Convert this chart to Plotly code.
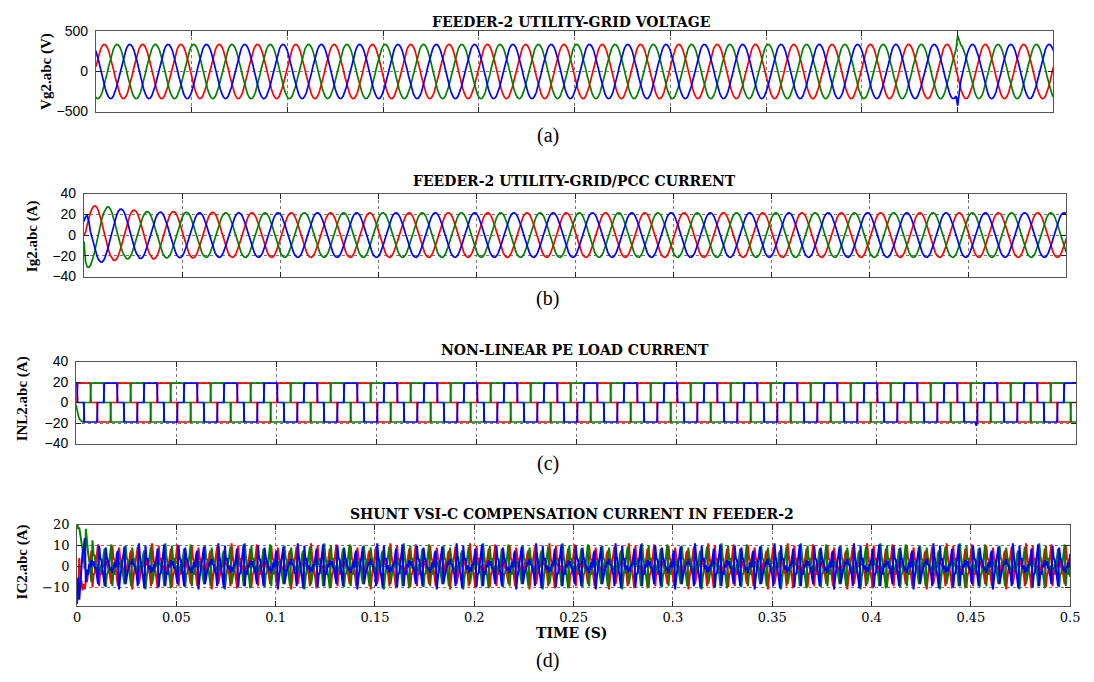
import plotly.graph_objects as go

# ---------------- shared time base / ticks ----------------
FUND_PERIOD_S = 0.02          # one 50 Hz cycle
N_CYCLES = 25                 # 0 ... 0.5 s
x_tick_vals = [0, 0.05, 0.1, 0.15, 0.2, 0.25, 0.3, 0.35, 0.4, 0.45, 0.5]
x_tick_text = ["0", "0.05", "0.1", "0.15", "0.2", "0.25", "0.3", "0.35", "0.4", "0.45", "0.5"]

# ---------------- (a) grid voltage, phase-a cycle (every 15 deg) ----------------
vg_cycle_a = [59, 143, 218, 278, 319, 338, 334, 307, 260, 194, 116, 30,
              -59, -143, -218, -278, -319, -338, -334, -307, -260, -194, -116, -30]
vg_event_t = 0.45
vg_event_green = [447, 385]
vg_event_blue = [-427, -255]
vg_ticks = [-500, 0, 500]

# ---------------- (b) grid / PCC current ----------------
ig_cycle_a = [-3.4, 2.2, 7.7, 12.6, 16.7, 19.6, 21.2, 21.4, 20.1, 17.4, 13.5, 8.7,
              3.4, -2.2, -7.7, -12.6, -16.7, -19.6, -21.2, -21.4, -20.1, -17.4, -13.5, -8.7]
ig_steady_peak = 21.4
ig_halfwave_peaks_red = [0, 28, 24.5, 24, 23, 22.5, 22, 21.8]
ig_halfwave_peaks_green = [31, 27, 23, 22.5, 22, 21.8]
ig_halfwave_peaks_blue = [19, 26, 25, 22.5, 22, 21.8]
ig_start_green = [-6, -26]
ig_start_blue = [13, 18, 18.5, 13]
ig_ticks = [-40, -20, 0, 20, 40]

# ---------------- (c) non-linear load current, phase-a cycle (every 7.5 deg) ----------------
inl_cycle_a = [0, 0] + [19] * 16 + [0] * 8 + [-19] * 16 + [0] * 6
inl_start_green = [-2, -7, -11, -14, -16, -17.3, -18.1, -18.6, -18.9]
inl_event_t = 0.45
inl_event_blue = [-22.5, -21]
inl_ticks = [-40, -20, 0, 20, 40]

# ---------------- (d) shunt VSI compensation current, phase-a, two cycles (every 10 deg) ----------------
ic_cycles_a = [-6.0, -10.5, 10.0, 3.0, 4.0, -1.5, 0.5, -3.0, -0.5, -2.5, 1.0, 0.5,
               5.0, 8.5, -10.0, -4.0, -3.0, 2.5, 4.5, 10.5, -9.5, -2.5, -4.0, 1.0,
               -0.5, 3.0, 0.5, 2.5, -1.0, -0.5, -5.0, -8.5, 10.0, 4.0, 3.0, -2.5,
               -5.0, -9.5, 9.0, 4.5, 2.5, 0.5, -1.5, -1.0, -3.0, -1.0, 2.0, -0.5,
               6.0, 7.5, -11.0, -5.5, -1.5, 1.0, 6.0, 9.5, -8.5, -4.0, -2.0, -0.5,
               1.5, 1.0, 3.5, 1.0, 0.5, -2.0, -4.0, -9.5, 11.0, 5.0, 1.5, -1.0]
ic_template_cycles = 2
ic_start_red = [0, -3, -6, -9, -11, -10, -9, -8, -6, -5, -4, -3, -2, -1]
ic_start_green = [20, 17, 15, 13, 11, 10, 9, 8, 7, 6, 5, 4, 3.5, 3, 2.5, 2, 1.5, 1, 0.5]
ic_start_blue = [-23, -14, -6, -2, 2, 4, 4, 3, 2, 1]
ic_ticks = [-10, 0, 10, 20]

PHASE_COLORS = ["#ff0000", "#008000", "#0000ff"]


def tiled(cycle, shift, cycles_in_template=1):
    n = len(cycle)
    per_cycle = n // cycles_in_template
    total = per_cycle * N_CYCLES + 1
    dt = FUND_PERIOD_S / per_cycle
    t = [i * dt for i in range(total)]
    y = [cycle[(i - shift) % n] for i in range(total)]
    return t, y


def three_phase(cycle, cycles_in_template=1):
    third = len(cycle) // cycles_in_template // 3
    return [tiled(cycle, 0, cycles_in_template),
            tiled(cycle, third, cycles_in_template),
            tiled(cycle, -third, cycles_in_template)]


def scale_halfwaves(y, peaks, steady):
    out = []
    seg = 0
    prev_sign = None
    for v in y:
        s = 1 if v > 0 else (-1 if v < 0 else 0)
        if s != 0:
            if prev_sign is not None and s != prev_sign:
                seg += 1
            prev_sign = s
        m = peaks[seg] / steady if seg < len(peaks) else 1.0
        out.append(v * m)
    return out


def overwrite(y, start_idx, values):
    for j, v in enumerate(values):
        y[start_idx + j] = v


def add_offsets(y, values):
    for j, v in enumerate(values):
        y[j] += v


# ---- build panel data ----
va, vb, vc = three_phase(vg_cycle_a)
idx = round(vg_event_t / (FUND_PERIOD_S / len(vg_cycle_a)))
overwrite(vb[1], idx, vg_event_green)
overwrite(vc[1], idx, vg_event_blue)
panel_a = [va, vb, vc]

ia, ib, ic_ = three_phase(ig_cycle_a)
ia = (ia[0], scale_halfwaves(ia[1], ig_halfwave_peaks_red, ig_steady_peak))
ib = (ib[0], scale_halfwaves(ib[1], ig_halfwave_peaks_green, ig_steady_peak))
ic_ = (ic_[0], scale_halfwaves(ic_[1], ig_halfwave_peaks_blue, ig_steady_peak))
overwrite(ib[1], 0, ig_start_green)
overwrite(ic_[1], 0, ig_start_blue)
panel_b = [ia, ib, ic_]

la, lb, lc = three_phase(inl_cycle_a)
overwrite(lb[1], 0, inl_start_green)
idx = round(inl_event_t / (FUND_PERIOD_S / len(inl_cycle_a)))
overwrite(lc[1], idx, inl_event_blue)
panel_c = [la, lb, lc]

ca, cb, cc = three_phase(ic_cycles_a, ic_template_cycles)
add_offsets(ca[1], ic_start_red)
add_offsets(cb[1], ic_start_green)
add_offsets(cc[1], ic_start_blue)
panel_d = [ca, cb, cc]

W, H = 1094, 682

# pixel boxes of the four plot frames (left, right, top, bottom)
boxes = [(93, 1063, 24, 106), (81, 1076, 190, 275), (73, 1086, 362, 446), (74, 1080, 529, 612)]
y_ranges = [[-500, 500], [-40, 40], [-40, 40], [-18.8, 20]]
y_tickvals = [vg_ticks, ig_ticks, inl_ticks, ic_ticks]
panels = [panel_a, panel_b, panel_c, panel_d]
line_widths = [1.7, 1.7, 1.7, 2.0]

fig = go.Figure()
for p, data in enumerate(panels):
    xa = "x" if p == 0 else f"x{p+1}"
    ya = "y" if p == 0 else f"y{p+1}"
    for ph, (t, y) in enumerate(data):
        fig.add_trace(go.Scatter(x=t, y=y, mode="lines", xaxis=xa, yaxis=ya,
                                 line=dict(color=PHASE_COLORS[ph], width=line_widths[p]),
                                 showlegend=False, hoverinfo="skip"))

layout = dict(width=W, height=H, margin=dict(l=0, r=0, t=0, b=0),
              paper_bgcolor="white", plot_bgcolor="white", showlegend=False)

for p in range(4):
    l, r, tp, bt = boxes[p]
    xkey = "xaxis" if p == 0 else f"xaxis{p+1}"
    ykey = "yaxis" if p == 0 else f"yaxis{p+1}"
    xa = "x" if p == 0 else f"x{p+1}"
    ya = "y" if p == 0 else f"y{p+1}"
    layout[xkey] = dict(domain=[l / W, r / W], anchor=ya, range=[0, 0.5],
                        tickvals=x_tick_vals, ticktext=x_tick_text,
                        showticklabels=(p == 3), ticks="inside", ticklen=5,
                        tickcolor="#222", showline=True, linecolor="#555", linewidth=1,
                        mirror="ticks", showgrid=True, gridcolor="#777", griddash="dot",
                        gridwidth=1, zeroline=False,
                        tickfont=dict(family="DejaVu Serif", size=13, color="black"))
    tf = dict(family="DejaVu Serif", size=13, color="black") if p == 3 else \
        dict(family="Liberation Sans", size=14, color="black")
    layout[ykey] = dict(domain=[1 - bt / H, 1 - tp / H], anchor=xa, range=y_ranges[p],
                        tickvals=y_tickvals[p], ticks="inside", ticklen=5,
                        tickcolor="#222", showline=True, linecolor="#555", linewidth=1,
                        mirror="ticks", showgrid=True, gridcolor="#777", griddash="dot",
                        gridwidth=1, zeroline=False, tickfont=tf, ticklabelstandoff=4)

fig.update_layout(**layout)

titles = ["FEEDER-2 UTILITY-GRID VOLTAGE", "FEEDER-2 UTILITY-GRID/PCC CURRENT",
          "NON-LINEAR PE LOAD CURRENT", "SHUNT VSI-C COMPENSATION CURRENT IN FEEDER-2"]
title_pos = [(574, 14), (578, 177), (578, 350), (575, 518)]
ylabels = ["Vg2.abc (V)", "Ig2.abc (A)", "INL2.abc (A)", "IC2.abc (A)"]
ylabel_pos = [(43, 65), (29, 234), (19, 400), (19, 567)]
panel_labels = ["(a)", "(b)", "(c)", "(d)"]
panel_label_pos = [(551, 131), (551, 297), (551, 466), (551, 668)]

ann = []
for i in range(4):
    ann.append(dict(text=titles[i], x=title_pos[i][0] / W, y=1 - title_pos[i][1] / H,
                    xref="paper", yref="paper", showarrow=False, xanchor="center", yanchor="middle",
                    font=dict(family="DejaVu Serif", size=14, color="black", weight="bold")))
    ann.append(dict(text=ylabels[i], x=ylabel_pos[i][0] / W, y=1 - ylabel_pos[i][1] / H,
                    xref="paper", yref="paper", showarrow=False, textangle=-90,
                    xanchor="center", yanchor="middle",
                    font=dict(family="Liberation Serif", size=15, color="black", weight="bold")))
    ann.append(dict(text=panel_labels[i], x=panel_label_pos[i][0] / W, y=1 - panel_label_pos[i][1] / H,
                    xref="paper", yref="paper", showarrow=False, xanchor="center", yanchor="middle",
                    font=dict(family="Liberation Serif", size=20, color="black")))
ann.append(dict(text="TIME (S)", x=575 / W, y=1 - 640 / H, xref="paper", yref="paper",
                showarrow=False, xanchor="center", yanchor="middle",
                font=dict(family="DejaVu Serif", size=14, color="black", weight="bold")))
fig.update_layout(annotations=ann)

fig.write_html("out.html")
